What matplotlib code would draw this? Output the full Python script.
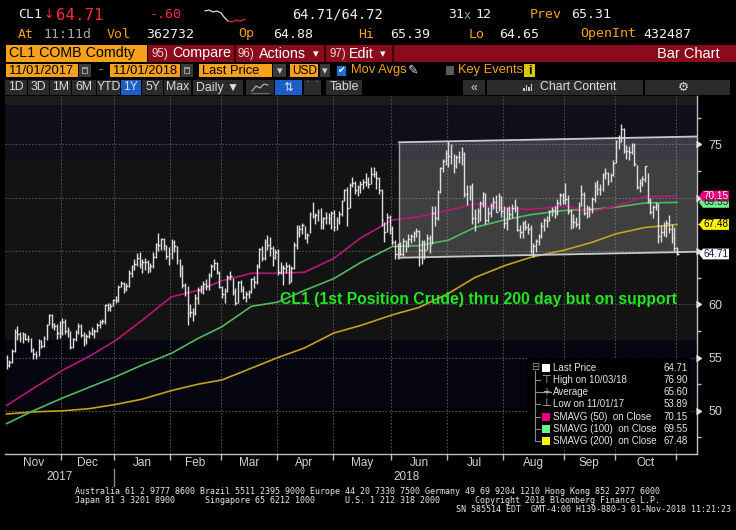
#! /usr/bin/env python

import numpy as np
import pandas as pd
import matplotlib
matplotlib.use("Agg")
import matplotlib.pyplot as plt
from matplotlib.patches import Rectangle, Polygon
from matplotlib.lines import Line2D
from matplotlib.markers import CARETRIGHT

W, H = 736, 530

# ---- data (CL1 daily bars, 11/01/2017 - 11/01/2018) ----
holidays = ["2017-11-23", "2017-12-25", "2018-01-01", "2018-01-15", "2018-02-19",
            "2018-03-30", "2018-05-28", "2018-07-04", "2018-09-03"]

close = [
    54.30, 54.54, 55.64, 57.35, 57.20, 56.81, 57.17, 56.74, 56.76, 55.70, 55.33, 55.14, 56.55, 56.09, 56.83, 58.02, 58.95, 58.11, 57.99, 57.30, 57.40,
    58.36, 57.47, 57.62, 55.96, 56.69, 57.36, 57.99, 57.14, 56.60, 57.04, 57.30, 57.16, 57.46, 58.09, 58.36, 58.47, 59.97, 59.64, 59.84, 60.42,
    60.37, 61.63, 62.01, 61.44, 61.73, 62.96, 63.57, 63.80, 64.30, 63.73, 63.97, 63.95, 63.37, 63.57, 64.47, 65.61, 65.51, 66.14, 65.56, 64.50, 64.73,
    65.80, 65.45, 64.15, 63.39, 61.79, 61.15, 59.20, 59.29, 59.19, 60.60, 61.34, 61.68, 61.90, 61.68, 62.77, 63.55, 63.91, 63.01, 61.64,
    60.99, 61.25, 62.57, 62.60, 61.15, 60.12, 62.04, 61.36, 60.71, 60.96, 61.19, 62.34, 62.06, 63.54, 65.17, 64.30, 65.88, 65.55, 65.25, 64.38, 64.94,
    63.01, 63.51, 63.37, 63.54, 62.06, 63.42, 65.51, 66.82, 67.07, 67.39, 66.22, 66.52, 68.47, 68.29, 68.38, 68.64, 67.70, 68.05, 68.19, 68.10, 68.57,
    67.25, 67.93, 68.43, 69.72, 70.73, 69.06, 71.14, 71.36, 70.70, 70.96, 71.31, 71.49, 71.49, 71.28, 72.24, 72.20, 71.84, 70.71, 67.88, 66.73, 68.21, 67.04,
    65.81, 64.75, 65.52, 64.73, 65.95, 65.74, 66.10, 66.36, 66.64, 66.89, 65.06, 65.85, 65.07, 66.22, 65.54, 68.58, 68.08, 70.53, 72.76, 73.45, 74.15,
    73.94, 74.14, 72.94, 73.80, 73.85, 74.11, 70.38, 70.33, 71.01, 68.06, 68.08, 68.76, 69.46, 70.46, 67.89, 68.52, 69.30, 69.61, 68.69, 70.13, 68.76,
    67.66, 68.96, 68.49, 69.01, 69.17, 66.94, 66.81, 67.63, 67.20, 67.04, 65.01, 65.46, 65.91, 66.43, 67.35, 67.86, 67.83, 68.72, 68.87, 68.53, 69.51, 70.25, 69.80,
    69.87, 68.72, 67.77, 67.75, 67.54, 69.25, 70.37, 68.59, 68.99, 68.91, 69.85, 71.12, 70.80, 70.78, 72.08, 72.28, 71.57, 72.12, 73.25,
    75.30, 75.23, 76.41, 74.33, 74.34, 74.29, 74.96, 73.17, 70.97, 71.34, 71.78, 72.92, 69.75, 68.65, 69.12, 69.17, 66.43, 66.82, 67.33, 67.59, 67.04, 66.18, 65.31,
    64.71,
]
high = [
    55.22, 54.80, 55.77, 57.69, 57.92, 57.43, 57.40, 57.30, 57.10, 56.86, 55.93, 55.64, 56.76, 56.68, 57.03, 58.11, 59.05, 59.05, 58.27, 58.10, 58.38,
    58.70, 58.57, 57.90, 57.45, 56.79, 57.56, 58.26, 58.10, 57.35, 57.24, 57.59, 57.85, 57.67, 58.28, 58.50, 58.60, 60.04, 60.11, 60.08, 60.51,
    60.74, 61.81, 62.21, 62.04, 61.98, 63.20, 63.67, 64.25, 64.77, 64.89, 64.26, 64.29, 64.13, 63.82, 64.89, 65.74, 66.66, 66.20, 66.25, 65.56, 65.39,
    66.10, 66.05, 65.47, 64.24, 63.66, 62.01, 61.73, 60.05, 59.60, 60.94, 61.65, 61.78, 62.22, 62.41, 62.92, 63.73, 64.24, 63.94, 63.11,
    61.73, 61.53, 62.74, 63.09, 62.46, 61.50, 62.20, 62.25, 61.70, 61.22, 61.35, 62.50, 62.64, 63.78, 65.30, 65.47, 66.10, 66.45, 66.28, 65.50, 65.20,
    65.14, 63.93, 63.72, 63.95, 63.73, 63.63, 65.86, 67.45, 67.45, 67.65, 67.30, 66.71, 68.69, 69.56, 68.60, 68.90, 69.00, 68.20, 68.62, 68.58, 68.70,
    68.82, 68.20, 68.73, 69.78, 70.84, 71.00, 71.36, 71.89, 71.55, 71.22, 71.60, 71.75, 72.30, 71.90, 72.83, 72.90, 72.45, 71.95, 70.83, 67.70, 68.52, 68.38,
    67.34, 65.99, 65.75, 65.80, 66.17, 66.00, 66.54, 66.61, 66.90, 67.19, 66.98, 66.00, 66.04, 66.59, 66.45, 69.23, 69.24, 70.71, 72.90, 73.58, 74.46,
    75.27, 75.00, 74.10, 73.98, 74.38, 74.70, 74.27, 71.17, 71.21, 71.37, 68.91, 69.04, 69.68, 70.48, 70.45, 69.10, 69.51, 70.04, 70.28, 70.40, 70.15,
    69.20, 69.10, 69.22, 69.44, 69.83, 69.24, 67.46, 67.77, 67.88, 67.61, 67.43, 65.77, 66.10, 66.59, 67.75, 68.12, 68.30, 68.85, 69.10, 69.18, 69.90, 70.47, 70.42,
    71.40, 70.25, 68.96, 68.42, 68.20, 69.62, 71.16, 70.51, 69.26, 69.25, 70.03, 71.43, 71.68, 71.25, 72.34, 72.79, 72.43, 72.34, 73.53,
    75.38, 75.91, 76.90, 76.57, 74.91, 74.84, 75.09, 75.14, 73.03, 71.72, 72.03, 72.96, 72.33, 69.93, 69.30, 69.55, 69.47, 67.40, 67.73, 67.89, 68.35, 67.51, 67.23,
    65.39,
]
low = [
    53.89, 54.12, 54.48, 55.55, 56.66, 56.50, 56.37, 56.67, 56.50, 55.51, 54.82, 54.90, 55.17, 55.85, 56.02, 56.62, 58.04, 57.77, 57.55, 56.75, 56.80,
    57.07, 57.20, 56.90, 55.82, 55.85, 56.58, 57.20, 56.91, 56.12, 56.25, 56.80, 57.10, 56.81, 57.40, 57.74, 58.14, 58.19, 59.38, 59.41, 59.80,
    60.10, 60.21, 61.58, 61.03, 61.20, 61.57, 62.56, 63.25, 63.58, 63.41, 62.92, 63.18, 62.95, 63.03, 63.42, 64.30, 65.01, 65.10, 65.05, 64.25, 63.67,
    64.25, 64.86, 63.76, 62.54, 61.55, 60.81, 58.07, 58.82, 58.40, 58.95, 60.05, 61.01, 61.00, 61.32, 61.30, 62.56, 63.22, 62.83, 61.51,
    60.56, 60.15, 61.12, 62.27, 60.83, 59.95, 60.15, 61.10, 60.50, 60.22, 60.59, 61.06, 61.50, 61.90, 63.40, 64.05, 64.17, 65.11, 64.52, 63.63, 64.26,
    62.75, 62.79, 61.84, 62.95, 61.88, 62.05, 63.31, 65.20, 66.35, 66.63, 66.10, 65.72, 66.70, 68.08, 67.55, 67.80, 67.01, 67.05, 67.55, 67.50, 67.05,
    66.83, 66.99, 67.51, 68.30, 69.64, 67.36, 69.00, 70.96, 70.30, 70.11, 70.47, 70.80, 71.05, 70.90, 71.27, 71.90, 70.83, 70.34, 67.36, 65.80, 66.77, 66.59,
    65.55, 64.22, 64.26, 64.63, 64.49, 64.91, 65.35, 65.70, 65.93, 66.33, 63.59, 63.78, 64.25, 65.06, 64.77, 65.65, 67.31, 67.87, 70.42, 72.37, 73.06,
    72.88, 73.18, 72.34, 72.78, 73.27, 73.07, 70.09, 69.31, 69.82, 67.56, 66.88, 67.61, 67.82, 69.09, 67.49, 67.72, 68.21, 68.89, 68.64, 68.72, 68.21,
    67.11, 66.92, 68.00, 68.05, 68.62, 66.83, 66.21, 66.24, 66.94, 66.55, 64.83, 64.43, 64.88, 65.57, 66.19, 66.91, 67.23, 67.81, 68.30, 68.12, 68.38, 69.28, 69.44,
    69.40, 68.43, 67.04, 67.15, 67.28, 67.10, 69.22, 68.37, 68.12, 68.21, 68.60, 69.56, 70.21, 70.28, 70.64, 71.72, 71.18, 71.42, 72.01,
    73.24, 74.58, 75.18, 74.20, 73.61, 73.57, 74.05, 72.93, 70.84, 70.48, 71.06, 71.45, 69.50, 68.47, 68.08, 68.81, 65.74, 65.80, 66.38, 66.34, 66.72, 65.70, 65.02,
    64.65,
]

ma_idx = [0, 10, 21, 31, 41, 51, 62, 72, 81, 92, 102, 112, 123, 133, 145, 155, 166, 176, 187, 197, 210, 220, 229, 240, 252]
sma50 = [50.5, 52.1, 53.8, 55.1, 56.6, 58.5, 60.7, 61.3, 62.2, 62.9, 62.9, 63.0, 64.3, 66.2, 67.9, 68.2, 68.8, 69.4, 69.0, 68.9, 69.2, 68.7, 69.2, 70.1, 70.15]
sma100 = [48.8, 50.0, 51.2, 52.2, 53.2, 54.3, 55.4, 56.8, 57.9, 59.8, 60.2, 61.3, 62.4, 63.9, 65.4, 65.5, 66.0, 67.2, 67.9, 68.4, 68.8, 68.9, 69.1, 69.5, 69.55]
sma200 = [49.7, 49.9, 50.0, 50.2, 50.6, 51.1, 51.9, 52.5, 52.9, 54.0, 55.0, 55.9, 57.3, 58.0, 59.0, 59.7, 61.0, 62.5, 63.6, 64.4, 65.1, 65.8, 66.6, 67.2, 67.48]

# drawn trading channel
channel_x = [147.5, 259.5]
channel_top = [75.19, 75.73]
channel_bot = [64.36, 64.92]

legend_labels = ["Last Price", "High on 10/03/18", "Average", "Low on 11/01/17",
                 "SMAVG (50)  on Close", "SMAVG (100)  on Close", "SMAVG (200)  on Close"]
legend_values = [64.71, 76.90, 65.60, 53.89, 70.15, 69.55, 67.48]

MAGENTA_LINE, GREEN_LINE, YELLOW_LINE = "#b8177a", "#52b862", "#c2a21e"
MAGENTA, GREEN, YELLOW = "#e6007e", "#6cf08e", "#fff200"
ORANGE = "#f5a11c"
BTN = "#2b2b2b"
BLUE = "#1b5ec8"
MONO = "DejaVu Sans Mono"

plt.rcParams["font.family"] = ["Liberation Sans", "DejaVu Sans"]

fig = plt.figure(figsize=(W / 100, H / 100), dpi=100, facecolor="black")


def box(x0, y0, x1, y1, color, z=1):
    fig.patches.append(Rectangle((x0 / W, 1 - y1 / H), (x1 - x0) / W, (y1 - y0) / H,
                                 transform=fig.transFigure, facecolor=color,
                                 edgecolor="none", zorder=z))


def txt(x, y, s, color="#e6e6e6", size=8, ha="left", **kw):
    fig.text(x / W, 1 - y / H, s, color=color, fontsize=size, ha=ha, va="center", **kw)


def pline(xs, ys, color, lw=1.0, z=3):
    fig.add_artist(Line2D([v / W for v in xs], [1 - v / H for v in ys], color=color,
                          lw=lw, zorder=z, transform=fig.transFigure))


# ---- main chart ----
dates = pd.bdate_range("2017-11-01", "2018-11-01", freq="C", holidays=holidays)
n = len(dates)
assert n == len(close) == len(high) == len(low), (n, len(close), len(high), len(low))
x = np.arange(n)

ax = fig.add_axes([5 / W, (H - 454) / H, 692 / W, 358 / H])
ax.set_facecolor("black")
x_lo, x_hi = -0.6, 259.5
y_lo, y_hi = 45.95, 79.53
ax.set_xlim(x_lo, x_hi)
ax.set_ylim(y_lo, y_hi)

# background bands
ax.axhspan(78.7, y_hi, color="#1c1c1c", zorder=0, lw=0)
ax.axhspan(73.52, 78.7, color="#0e0f18", zorder=0, lw=0)
ax.axhspan(56.64, 73.52, color="#131313", zorder=0, lw=0)
ax.axhspan(50.26, 56.64, color="#05060f", zorder=0, lw=0)

month_starts = [i for i in range(1, n) if dates[i].month != dates[i - 1].month]
for b in month_starts:
    ax.axvline(b - 0.5, color="#4f4f4f", lw=0.8, ls=(0, (1.5, 1.5)), zorder=1)
for g in range(50, 80, 5):
    ax.axhline(g, color="#4f4f4f", lw=0.8, ls=(0, (1.5, 1.5)), zorder=1)

# channel
ax.fill([channel_x[0], channel_x[1], channel_x[1], channel_x[0]],
        [channel_top[0], channel_top[1], channel_bot[1], channel_bot[0]],
        color="white", alpha=0.19, lw=0, zorder=2)
ax.plot(channel_x, channel_top, color="#c8c8c8", lw=1.3, zorder=3.5)
ax.plot(channel_x, channel_bot, color="#c8c8c8", lw=1.3, zorder=3.5)
ax.plot([channel_x[0]] * 2, [channel_bot[0], channel_top[0]], color="#a8a8a8", lw=1.0, zorder=3.5)

# moving averages
ax.plot(ma_idx, sma200, color=YELLOW_LINE, lw=1.2, zorder=3)
ax.plot(ma_idx, sma100, color=GREEN_LINE, lw=1.2, zorder=3)
ax.plot(ma_idx, sma50, color=MAGENTA_LINE, lw=1.2, zorder=3)

# price bars (high-low with close tick)
ax.vlines(x, low, high, color="#dedede", lw=1.0, zorder=4)
ax.hlines(close, x, x + 0.6, color="#dedede", lw=1.0, zorder=4)

# axes styling
for side in ["top", "left"]:
    ax.spines[side].set_visible(False)
for side in ["right", "bottom"]:
    ax.spines[side].set_color("#bdbdbd")
    ax.spines[side].set_linewidth(1.0)
ax.yaxis.tick_right()
ax.set_yticks(range(50, 80, 5))
ax.set_yticklabels(["50", "55", "60", "", "", "75"])
ax.set_yticks(np.arange(47.5, 80, 5), minor=True)
ax.tick_params(axis="y", which="major", length=0, pad=8, labelsize=9,
               labelcolor="#d2d2d2")
ax.tick_params(axis="y", which="minor", length=3, width=1, color="#bdbdbd")
ax.plot([1 + 4 / 692] * 6, list(range(50, 80, 5)), transform=ax.get_yaxis_transform(),
        ls="none", marker=CARETRIGHT, ms=5, color="#e0e0e0", clip_on=False, zorder=6)

ax.set_xticks([b - 0.5 for b in month_starts])
ax.set_xticklabels([])
ax.tick_params(axis="x", length=4, width=1, color="#bdbdbd")

xt = ax.get_xaxis_transform()
for (yr, mo), grp in pd.Series(x, index=dates).groupby([dates.year, dates.month]):
    if len(grp) < 5:
        continue
    mid = (grp.iloc[0] + grp.iloc[-1]) / 2
    ax.text(mid, -9 / 358, dates[grp.iloc[0]].strftime("%b"), transform=xt, ha="center",
            va="center", color="#d2d2d2", fontsize=8.5, clip_on=False)
yr_idx = pd.Series(x, index=dates).groupby(dates.year)
for yr, grp in yr_idx:
    last = grp.iloc[-1] if yr == 2017 else x_hi
    ax.text((grp.iloc[0] + last) / 2, -23 / 358, str(yr), transform=xt, ha="center",
            va="center", color="#d2d2d2", fontsize=8.5, clip_on=False)
ax.plot([month_starts[1] - 0.5] * 2, [-15 / 358, -32 / 358], transform=xt,
        color="#8a8a8a", lw=1, clip_on=False)

# right side value tags
ppu = 358 / (y_hi - y_lo)
ty = ax.get_yaxis_transform()


def tag(p, face, fg):
    h = 5.4 / ppu
    a, b, c = 1 + 2 / 692, 1 + 6 / 692, 1 + 32 / 692
    ax.add_patch(Polygon([(a, p), (b, p + h), (c, p + h), (c, p - h), (b, p - h)],
                         closed=True, transform=ty, facecolor=face, edgecolor="none",
                         clip_on=False, zorder=10))
    ax.text(1 + 19 / 692, p, f"{p:.2f}", transform=ty, ha="center", va="center",
            color=fg, fontsize=7.2, clip_on=False, zorder=11)


tag(legend_values[5], GREEN, "#103010")
tag(legend_values[4], MAGENTA, "white")
tag(legend_values[6], YELLOW, "black")
tag(legend_values[0], "white", "#1a1a50")

# annotation
txt(280, 299.5, "CL1 (1st Position Crude) thru 200 day but on support", "#22e622", 11.3,
    weight="bold")

# legend
box(527, 358, 690, 447, "#000000", z=2)
rows = [368, 380, 392, 404, 416.5, 428.5, 441]
pline([535, 535], [371, 441], "#8a8a8a", 0.8)
for ry in rows[1:]:
    pline([535, 540], [ry, ry], "#8a8a8a", 0.8)
txt(535, 367.5, "⊟", "#9a9a9a", 7, ha="center", family="DejaVu Sans")
box(542, 364, 550, 372, "white", z=3)
txt(546, 380, "⊤", "#bdbdbd", 8, ha="center", family="DejaVu Sans")
pline([541, 551], [392, 392], "#9a9a9a", 0.8)
txt(546, 392, "+", "#bdbdbd", 7, ha="center", family="DejaVu Sans")
txt(546, 403, "⊥", "#bdbdbd", 8, ha="center", family="DejaVu Sans")
box(542, 412.5, 550, 420.5, MAGENTA, z=3)
box(542, 424.5, 550, 432.5, GREEN, z=3)
box(542, 437, 550, 445, YELLOW, z=3)
for ry, lab, val in zip(rows, legend_labels, legend_values):
    txt(553, ry, lab, "#e4e4e4", 7.0)
    txt(688, ry, f"{val:.2f}", "#e4e4e4", 7.0, ha="right")

# ---- header ----
RED = "#ff2b3d"
txt(18, 15, "CL1", "#f0f0f0", 9.5, family=MONO)
txt(43, 15, "↓", RED, 9, family="DejaVu Sans")
txt(56, 15, "64.71", RED, 11.3, family=MONO)
txt(150, 15, "-.60", RED, 9.5, family=MONO)
pline([205, 209, 213, 217, 221, 224, 228], [11, 10, 12, 11, 13, 17, 21], "#f0f0f0", 0.8)
pline([228, 232, 236, 240, 245], [21, 22, 20, 21, 19.5], RED, 0.8)
txt(292, 15, "64.71/64.72", "#f0f0f0", 9.8, family=MONO)
txt(448, 15, "31", "#f0f0f0", 9.5, family=MONO)
txt(464, 15.5, "x", "#9a9a9a", 8.5, family=MONO)
txt(475, 15, "12", "#f0f0f0", 9.5, family=MONO)
txt(530, 15, "Prev", ORANGE, 9.5, family=MONO)
txt(571, 15, "65.31", "#f0f0f0", 9.5, family=MONO)

row2 = [(18, "At", ORANGE), (43, "11:11d", "#a8a8a8"), (107, "Vol", ORANGE),
        (146, "362732", "#f0f0f0"), (238, "Op", ORANGE), (273, "64.88", "#f0f0f0"),
        (358, "Hi", ORANGE), (390, "65.39", "#f0f0f0"), (469, "Lo", ORANGE),
        (499, "64.65", "#f0f0f0"), (580, "OpenInt", ORANGE), (643, "432487", "#f0f0f0")]
for px, s, c in row2:
    txt(px, 34, s, c, 9.5, family=MONO)

# row 3
box(6, 45, 147, 62, ORANGE)
txt(9, 53.5, "CL1 COMB Comdty", "black", 10.3)
box(148, 45, 736, 62, "#8a0b1c")
for sx in [234, 324, 392]:
    box(sx, 45, sx + 1.5, 62, "#3c0008", z=2)
txt(152, 53.5, "95)", "#ecd4d4", 8.3)
txt(172, 53.5, "Compare", "white", 10.3)
txt(238, 53.5, "96)", "#ecd4d4", 8.3)
txt(259, 53.5, "Actions", "white", 10.3)
txt(313, 54, "▾", "white", 8, family="DejaVu Sans")
txt(329, 53.5, "97)", "#ecd4d4", 8.3)
txt(349, 53.5, "Edit", "white", 10.3)
txt(380, 54, "▾", "white", 8, family="DejaVu Sans")
txt(720, 53.5, "Bar Chart", "white", 10.5, ha="right")

# row 4
box(6, 64, 78, 77, ORANGE)
txt(9, 70.5, "11/01/2017", "black", 9.3)
box(110, 64, 180, 77, ORANGE)
txt(113, 70.5, "11/01/2018", "black", 9.3)
for cx in [79, 181]:
    box(cx, 64, cx + 12, 77, "#3a3a3a")
    box(cx + 3, 67, cx + 9, 74, "#9a9a9a", z=2)
    box(cx + 4, 69, cx + 8, 73, "#3a3a3a", z=2)
txt(98, 70.5, "-", ORANGE, 9.3)
box(199, 64, 272, 77, ORANGE)
txt(202, 70.5, "Last Price", "black", 9.3)
box(273, 64, 286, 77, "#3a3a3a")
txt(279.5, 71, "▾", "#d0d0d0", 8, ha="center", family="DejaVu Sans")
box(290, 64, 318, 77, ORANGE)
txt(292, 70.5, "USD", "black", 8.6)
box(320, 64, 330, 77, "#3a3a3a")
txt(325, 71, "▾", "#d0d0d0", 8, ha="center", family="DejaVu Sans")
box(337, 65.5, 346, 75.5, "#1f6fd0")
txt(341.5, 70.5, "✔", "white", 6.5, ha="center", family="DejaVu Sans")
txt(351, 70.5, "Mov Avgs", ORANGE, 9.3)
txt(413, 70.5, "✎", "#e0e0e0", 9, ha="center", family="DejaVu Sans")
box(446, 66, 454, 75, "#5a5a5a")
txt(458, 70.5, "Key Events", ORANGE, 9.3)
box(524, 64, 535, 77, "#d8c800")
txt(529.5, 70.5, "i", "black", 9, ha="center", weight="bold")

# row 5
buttons = [(5, 27, "1D"), (28, 49, "3D"), (50, 71, "1M"), (72, 96, "6M"), (97, 120, "YTD"),
           (121, 141, "1Y"), (142, 163, "5Y"), (164, 191, "Max"), (193, 243, "Daily ▼"),
           (326, 362, "Table"), (463, 485, "«")]
for b0, b1, s in buttons:
    box(b0, 80, b1, 95, BLUE if s == "1Y" else BTN)
    txt((b0 + b1) / 2, 87.5, s, "#dcdcdc", 8.8, ha="center")
box(246, 80, 274, 95, BTN)
pline([252, 256, 260, 264, 268], [91, 86, 88, 84, 85], "#bdbdbd", 0.8)
pline([251, 269], [92.5, 92.5], "#777777", 0.6)
box(275, 80, 302, 95, BLUE)
txt(288.5, 87.5, "⇅", "#e0e0e0", 8.5, ha="center", family="DejaVu Sans")
box(304, 80, 321, 95, BTN)
txt(312.5, 86, "˙ ˙", "#bdbdbd", 8, ha="center", family="DejaVu Sans")
box(487, 80, 643, 95, BTN)
for k, bh in enumerate([3, 6, 4, 7]):
    box(523 + k * 2.5, 91 - bh, 524.5 + k * 2.5, 91, "#d0d0d0", z=2)
txt(540, 87.5, "Chart Content", "#e0e0e0", 8.8)
box(645, 80, 730, 95, BTN)
txt(683, 87.5, "⚙", "#d8d8d8", 9, ha="center", family="DejaVu Sans")

# footer
foot1 = "Australia 61 2 9777 8600 Brazil 5511 2395 9000 Europe 44 20 7330 7500 Germany 49 69 9204 1210 Hong Kong 852 2977 6000"
foot2 = "Japan 81 3 3201 8900      Singapore 65 6212 1000      U.S. 1 212 318 2000       Copyright 2018 Bloomberg Finance L.P."
foot3 = "SN 585514 EDT  GMT-4:00 H139-880-3 01-Nov-2018 11:21:23"
txt(75, 491, foot1, "#e8e8e8", 6, family=MONO)
txt(75, 500.5, foot2, "#e8e8e8", 6, family=MONO)
txt(731, 510, foot3, "#e8e8e8", 6, ha="right", family=MONO)

fig.savefig("out.png", dpi=100, facecolor="black")
